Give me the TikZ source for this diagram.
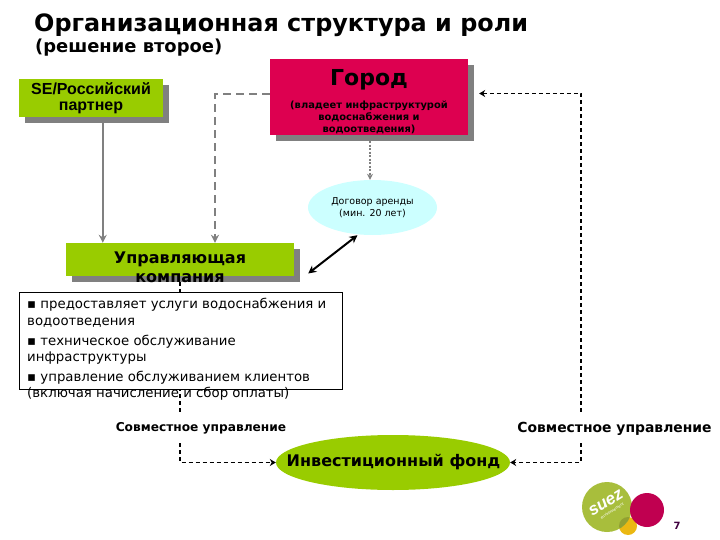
\documentclass[tikz,border=0pt]{standalone}
\usepackage{fontspec}
\setmainfont{DejaVu Sans}
\newfontfamily\arialfont{Liberation Sans}
\usetikzlibrary{arrows.meta, positioning, shapes.geometric, shadows, calc}
\definecolor{Migreen}{RGB}{153,204,0}
\definecolor{Micrimson}{RGB}{221,0,80}
\definecolor{Micyan}{RGB}{204,255,255}
\definecolor{Mishadow}{RGB}{128,128,128}
\definecolor{Milogo}{RGB}{168,190,60}
\definecolor{Milogodark}{RGB}{145,160,50}
\definecolor{Miberry}{RGB}{192,0,80}
\definecolor{Miamber}{RGB}{235,184,18}

\begin{document}
\begin{tikzpicture}[x=1pt, y=-1pt,
    box/.style={rectangle, draw=none, fill=Migreen, inner sep=0pt,
                general shadow={fill=Mishadow, shadow xshift=6pt, shadow yshift=-6pt}},
    oval/.style={ellipse, draw=none, inner sep=0pt},
    head/.style={font=\bfseries, anchor=base west, inner sep=0pt},
    lab/.style={fill=white, inner sep=0pt, minimum height=28pt},
    garr/.style={-{Stealth[length=8pt, width=8pt]}, line width=1.8pt, color=Mishadow},
    gdash/.style={-{Stealth[length=8pt, width=8pt]}, line width=2.6pt, color=Mishadow,
                dash pattern=on 8pt off 5pt},
    gdot/.style={-{Stealth[length=6pt, width=6pt]}, line width=1.6pt, color=Mishadow,
                dash pattern=on 2pt off 1.5pt},
    karr/.style={-{Stealth[length=6pt, width=7pt]}, line width=1.5pt, color=black,
                dash pattern=on 4pt off 3pt},
    darr/.style={{Stealth[length=8pt, width=8pt]}-{Stealth[length=8pt, width=8pt]},
                line width=2pt, color=black}]

  \useasboundingbox (0,0) rectangle (720,540);

  %--- Title ---
  \node[head, font=\fontsize{23.9}{26}\selectfont\bfseries] (title) at (34,32)
    {Организационная структура и роли};
  \node[head, font=\fontsize{17.9}{20}\selectfont\bfseries] (subtitle) at (35,53)
    {(решение второе)};

  %--- Boxes ---
  \node[box, minimum width=144pt, minimum height=38pt, align=center,
        font=\arialfont\fontsize{16}{15.5}\selectfont\bfseries] (se) at (91,98)
    {SE/Российский\\партнер};
  \node[box, fill=Micrimson, minimum width=198pt, minimum height=76pt] (gorod) at (369,97) {};
  \node[font=\fontsize{22}{26}\selectfont\bfseries] (gorodname) at (369,80) {Город};
  \node[align=center, font=\fontsize{9.9}{12}\selectfont\bfseries] (gorodnote) at (369,117)
    {(владеет инфраструктурой\\водоснабжения и\\водоотведения)};
  \node[box, minimum width=228pt, minimum height=33pt] (mgmt) at (180,259.5) {};
  \node[oval, fill=Micyan, minimum width=129pt, minimum height=55pt, align=center,
        font=\fontsize{9.5}{12}\selectfont] (lease) at (372.5,207.5)
    {Договор аренды\\(мин. 20 лет)};
  \node[oval, fill=Migreen, minimum width=234pt, minimum height=55pt] (fund) at (393,462.5) {};

  %--- Connectors ---
  \draw[garr] ([xshift=84pt]se.south west) -- ([xshift=37pt]mgmt.north west);
  \draw[gdash] (gorod.west |- 215,94) -- (215,94) -- (mgmt.north -| 215,0);
  \draw[gdot] ([xshift=1pt,yshift=-6pt]gorod.south) -- ([xshift=-2.5pt]lease.north);
  \draw[darr] ([shift={(14,14)}]mgmt.east) -- ([xshift=-15pt]lease.south);
  \draw[karr] ([yshift=-6pt]mgmt.south) |- (fund.west);
  \draw[karr, {Stealth[length=6pt, width=7pt]}-{Stealth[length=6pt, width=7pt]}]
    ([shift={(11,-3.5)}]gorod.east) -| (581,462.5) -- (fund.east);

  %--- Services ---
  \node[rectangle, draw=black, line width=0.8pt, fill=white, minimum width=323pt,
        minimum height=97pt, inner sep=0pt] (services) at (180.5,340.5) {};
  \node[anchor=north west, align=left, inner sep=0pt,
        font=\fontsize{13.3}{15.5}\selectfont] (servicestxt) at (27,298)
    {▪ предоставляет услуги водоснабжения и\\[1.5pt]
     водоотведения\\[4.5pt]
     ▪ техническое обслуживание\\
     инфраструктуры\\[5pt]
     ▪ управление обслуживанием клиентов\\
     (включая начисление и сбор оплаты)};

  %--- Labels ---
  \node[align=center, font=\fontsize{16}{19}\selectfont\bfseries] (mgmtname) at (180,267.5)
    {Управляющая\\компания};
  \node[lab, font=\fontsize{12.2}{15}\selectfont\bfseries] (lableft) at (201,428) {Совместное управление};
  \node[lab, font=\fontsize{13.9}{15}\selectfont\bfseries] (labright) at (614.5,429) {Совместное управление};
  \node[font=\fontsize{16}{16}\selectfont\bfseries] (fundname) at (393.5,462) {Инвестиционный фонд};

  %--- Logo ---
  \fill[color=Miamber] (628,526) circle (9);
  \fill[color=Milogo] (607,507) circle (25);
  \begin{scope}
    \clip (607,507) circle (25);
    \fill[color=Milogodark] (628,526) circle (9);
  \end{scope}
  \fill[color=Miberry] (647,510) circle (17);
  \node[rotate=32, text=white, font=\arialfont\fontsize{17}{17}\selectfont\bfseries\itshape] (suez) at (606,503) {suez};
  \node[rotate=32, text=white, font=\arialfont\fontsize{4}{4}\selectfont] (suezsub) at (612,511) {environnement};
  \node[text=violet!50!black, font=\fontsize{10}{10}\selectfont\bfseries] (pagenum) at (677,526) {7};
\end{tikzpicture}
\end{document}
